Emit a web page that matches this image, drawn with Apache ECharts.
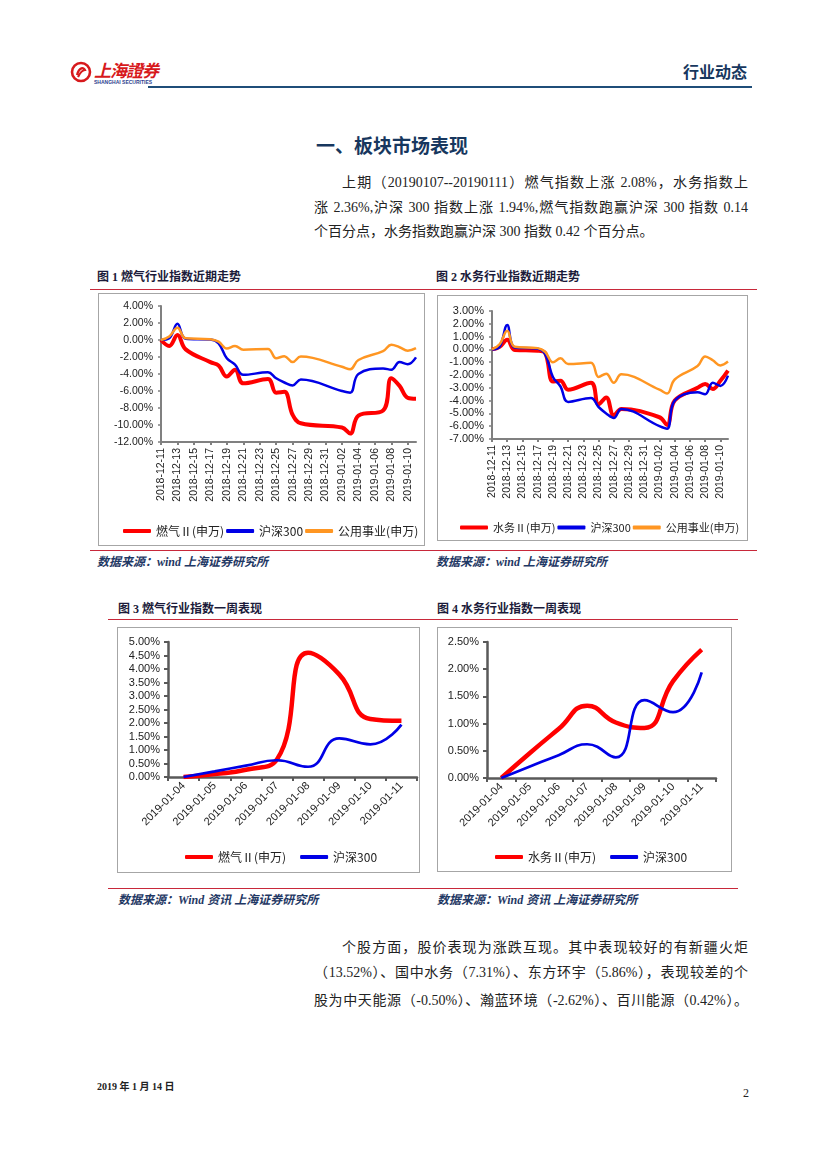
<!DOCTYPE html>
<html><head><meta charset="utf-8">
<script src="https://cdn.jsdelivr.net/npm/echarts@6/dist/echarts.min.js"></script>
<style>
body{margin:0;background:#fff;}
#page{position:relative;width:827px;height:1169px;overflow:hidden;background:#fff;font-family:"Liberation Serif","Noto Sans CJK SC",serif;color:#222;}
.abs{position:absolute;white-space:nowrap;}
.hr{position:absolute;height:1px;background:#C8283A;}
.box{position:absolute;border:1px solid #A6A6A6;box-sizing:border-box;}
.chart{position:absolute;}
.figt{position:absolute;white-space:nowrap;font-size:12px;font-weight:bold;color:#1B1B3A;line-height:16px;}
.src{position:absolute;white-space:nowrap;font-size:12px;font-weight:bold;font-style:italic;color:#1F3864;line-height:16px;}
.pl{position:absolute;font-size:14px;line-height:20px;height:20px;text-align:justify;text-align-last:justify;}
</style>
</head><body>
<div id="page">
  <!-- header -->
  <svg class="abs" style="left:70px;top:61px" width="22" height="22" viewBox="0 0 22 22">
    <circle cx="11" cy="11" r="9" fill="none" stroke="#D7191C" stroke-width="2.6"/>
    <path d="M7 14 C9 6, 14 6, 15 9 C12 9, 10 12, 8 16" fill="none" stroke="#D7191C" stroke-width="2.2"/>
  </svg>
  <div class="abs" style="left:94px;top:60px;font-size:17px;font-weight:bold;font-style:italic;color:#D7191C;font-family:'Noto Sans CJK TC';line-height:20px;letter-spacing:-1px">上海證券</div>
  <div class="abs" style="left:94px;top:79px;font-size:5px;font-weight:bold;color:#2E3F8F;font-family:'Liberation Sans';line-height:6px">SHANGHAI SECURITIES</div>
  <div class="abs" style="left:683px;top:61px;font-size:16px;font-weight:bold;color:#17375E;font-family:'Noto Sans CJK SC';line-height:20px">行业动态</div>
  <div class="abs" style="left:148px;top:86px;width:604px;height:2px;background:#1F4E79"></div>

  <div class="abs" style="left:316px;top:133px;font-size:19px;font-weight:bold;color:#17375E;font-family:'Noto Sans CJK SC';line-height:24px">一、板块市场表现</div>

  <div class="pl" style="left:342px;top:173px;width:406px">上期（20190107--20190111）燃气指数上涨 2.08%，水务指数上</div>
  <div class="pl" style="left:314px;top:198px;width:434px">涨 2.36%,沪深 300 指数上涨 1.94%,燃气指数跑赢沪深 300 指数 0.14</div>
  <div class="abs" style="left:314px;top:222px;font-size:14px;line-height:20px">个百分点，水务指数跑赢沪深 300 指数 0.42 个百分点。</div>

  <div class="figt" style="left:97px;top:269px">图 1 燃气行业指数近期走势</div>
  <div class="figt" style="left:436px;top:269px">图 2 水务行业指数近期走势</div>
  <div class="hr" style="left:90px;top:289px;width:667px"></div>

  <div class="box" style="left:98px;top:293px;width:327px;height:253px"></div>
  <div class="chart" id="c1" style="left:98px;top:293px;width:327px;height:253px"></div>
  <div class="box" style="left:437px;top:295px;width:311px;height:246px"></div>
  <div class="chart" id="c2" style="left:437px;top:295px;width:311px;height:246px"></div>

  <div class="hr" style="left:90px;top:550px;width:667px"></div>
  <div class="src" style="left:97px;top:554px">数据来源：wind 上海证券研究所</div>
  <div class="src" style="left:436px;top:554px">数据来源：wind 上海证券研究所</div>

  <div class="figt" style="left:118px;top:601px">图 3 燃气行业指数一周表现</div>
  <div class="figt" style="left:437px;top:601px">图 4 水务行业指数一周表现</div>
  <div class="hr" style="left:108px;top:619px;width:630px"></div>

  <div class="box" style="left:117px;top:627px;width:303px;height:246px"></div>
  <div class="chart" id="c3" style="left:117px;top:627px;width:303px;height:246px"></div>
  <div class="box" style="left:437px;top:627px;width:295px;height:245px"></div>
  <div class="chart" id="c4" style="left:437px;top:627px;width:295px;height:245px"></div>

  <div class="hr" style="left:108px;top:888px;width:630px"></div>
  <div class="src" style="left:118px;top:892px">数据来源：Wind 资讯 上海证券研究所</div>
  <div class="src" style="left:437px;top:892px">数据来源：Wind 资讯 上海证券研究所</div>

  <div class="pl" style="left:342px;top:938px;width:406px">个股方面，股价表现为涨跌互现。其中表现较好的有新疆火炬</div>
  <div class="pl" style="left:314px;top:963px;width:434px">（13.52%）、国中水务（7.31%）、东方环宇（5.86%），表现较差的个</div>
  <div class="pl" style="left:314px;top:991px;width:434px">股为中天能源（-0.50%）、瀚蓝环境（-2.62%）、百川能源（0.42%）。</div>

  <div class="abs" style="left:97px;top:1080px;font-size:10px;font-weight:bold;line-height:14px">2019 年 1 月 14 日</div>
  <div class="abs" style="left:743px;top:1085px;font-size:12px;line-height:16px">2</div>
</div>
<script>
// ---------- data ----------
const trendDates = ['2018-12-11','2018-12-12','2018-12-13','2018-12-14','2018-12-17','2018-12-18','2018-12-19','2018-12-20','2018-12-21','2018-12-24','2018-12-25','2018-12-26','2018-12-27','2018-12-28','2019-01-02','2019-01-03','2019-01-04','2019-01-07','2019-01-08','2019-01-09','2019-01-10','2019-01-11'];
const gasTrend   = [0, -0.7, 0.6, -1.1, -2.6, -3.0, -4.3, -3.5, -5.1, -4.6, -6.2, -6.1, -8.8, -9.8, -10.3, -11.0, -8.9, -8.3, -4.5, -5.4, -6.8, -6.9];
const waterTrend = [0, 0.2, 0.75, -0.05, -0.1, -0.3, -2.5, -2.45, -3.15, -2.6, -4.3, -3.75, -5.15, -4.65, -5.3, -5.9, -4.0, -3.0, -2.7, -3.1, -2.45, -1.65];
const hs300Trend = [0, 0.2, 1.9, 0.15, 0.05, -0.4, -2.15, -2.9, -4.1, -3.8, -4.5, -5.0, -5.35, -4.65, -6.0, -6.2, -4.0, -3.35, -3.5, -2.6, -2.85, -2.05];
const utilTrend  = [0, 0.4, 1.45, 0.2, 0.1, -0.2, -1.0, -0.7, -1.15, -1.05, -2.15, -1.9, -2.6, -1.95, -3.15, -3.45, -2.35, -1.3, -0.55, -0.85, -1.25, -0.95];

const weekDates = ['2019-01-04','2019-01-05','2019-01-06','2019-01-07','2019-01-08','2019-01-09','2019-01-10','2019-01-11'];
const gasWeek   = [0, 0.11, 0.27, 0.65, 4.6, 3.8, 2.15, 2.08];
const waterWeek = [0, 0.46, 0.9, 1.33, 1.02, 0.92, 1.78, 2.36];
const hs300Week = [0, 0.21, 0.42, 0.62, 0.38, 1.43, 1.21, 1.94];

const names = {gas:'燃气Ⅱ(申万)', water:'水务Ⅱ(申万)', hs:'沪深300', util:'公用事业(申万)'};
const colors = {red:'#FF0000', blue:'#0000E6', orange:'#FF9622'};

// ---------- helpers ----------
function calendar(from, to){
  const out=[]; let t=Date.parse(from+'T00:00:00Z'); const end=Date.parse(to+'T00:00:00Z');
  while(t<=end){ out.push(new Date(t).toISOString().slice(0,10)); t+=86400000; }
  return out;
}
const calDays = calendar(trendDates[0], trendDates[trendDates.length-1]);
function onCalendar(vals){
  const m={}; trendDates.forEach((d,i)=>m[d]=vals[i]);
  return calDays.map(d=> (d in m) ? m[d] : null);
}
const FONT = 'Liberation Sans, Arial, Noto Sans CJK SC, sans-serif';
const pct = v => v.toFixed(2)+'%';

function trendOption(cfg){
  return {
    animation:false,
    textStyle:{fontFamily:FONT},
    grid:{left:cfg.grid[0],top:cfg.grid[1],right:cfg.grid[2],bottom:cfg.grid[3]},
    legend:{left:cfg.legendLeft,top:cfg.legendTop,width:400,itemWidth:28,itemHeight:4,itemGap:cfg.legendGap,icon:'roundRect',
      textStyle:{fontSize:cfg.legendFont,color:'#222',fontFamily:'Noto Sans CJK SC, sans-serif'},
      data:cfg.series.map(s=>s.name)},
    xAxis:{type:'category',data:calDays,boundaryGap:false,
      axisLine:{onZero:false,lineStyle:{color:'#808080',width:2}},
      axisTick:{show:true,interval:1,length:3,lineStyle:{color:'#808080',width:2}},
      axisLabel:{interval:1,rotate:90,fontSize:10.5,color:'#222',margin:6}},
    yAxis:{type:'value',min:cfg.min,max:cfg.max,interval:cfg.interval,
      axisLine:{show:true,lineStyle:{color:'#808080',width:2}},
      axisTick:{show:true,length:3,lineStyle:{color:'#808080',width:1.5}},
      splitLine:{show:false},
      axisLabel:{fontSize:cfg.yFont,color:'#222',margin:8,formatter:pct}},
    series:cfg.series.map(s=>({name:s.name,type:'line',data:onCalendar(s.data),connectNulls:true,smooth:0.4,
      showSymbol:false,symbol:'none',lineStyle:{color:s.color,width:s.width},itemStyle:{color:s.color}}))
  };
}
function weekOption(cfg){
  return {
    animation:false,
    textStyle:{fontFamily:FONT},
    grid:{left:cfg.grid[0],top:cfg.grid[1],right:cfg.grid[2],bottom:cfg.grid[3]},
    legend:{left:cfg.legendLeft,top:cfg.legendTop,width:400,itemWidth:28,itemHeight:4,itemGap:14,icon:'roundRect',
      textStyle:{fontSize:12,color:'#222',fontFamily:'Noto Sans CJK SC, sans-serif'},
      data:cfg.series.map(s=>s.name)},
    xAxis:{type:'category',data:weekDates,boundaryGap:true,
      axisLine:{onZero:false,lineStyle:{color:'#595959',width:2.5}},
      axisTick:{show:true,length:4,lineStyle:{color:'#595959',width:2}},
      axisLabel:{interval:0,rotate:45,fontSize:11,color:'#222',margin:7}},
    yAxis:{type:'value',min:cfg.min,max:cfg.max,interval:0.5,
      axisLine:{show:true,lineStyle:{color:'#595959',width:2.5}},
      axisTick:{show:true,length:4,lineStyle:{color:'#595959',width:2}},
      splitLine:{show:false},
      axisLabel:{fontSize:11,color:'#222',margin:8,formatter:pct}},
    series:cfg.series.map(s=>({name:s.name,type:'line',data:s.data,smooth:0.5,
      showSymbol:false,symbol:'none',lineStyle:{color:s.color,width:s.width},itemStyle:{color:s.color}}))
  };
}

echarts.init(document.getElementById('c1')).setOption(trendOption({
  grid:[63,13,9,104], min:-12, max:4, interval:2, yFont:10.5,
  legendLeft:20, legendTop:227, legendGap:2, legendFont:12,
  series:[
    {name:names.gas, data:gasTrend, color:colors.red, width:4},
    {name:names.hs, data:hs300Trend, color:colors.blue, width:2.5},
    {name:names.util, data:utilTrend, color:colors.orange, width:2.5}
  ]}));
echarts.init(document.getElementById('c2')).setOption(trendOption({
  grid:[55,16,20,102], min:-7, max:3, interval:1, yFont:11,
  legendLeft:18, legendTop:222, legendGap:2, legendFont:11,
  series:[
    {name:names.water, data:waterTrend, color:colors.red, width:4},
    {name:names.hs, data:hs300Trend, color:colors.blue, width:2.5},
    {name:names.util, data:utilTrend, color:colors.orange, width:2.5}
  ]}));
echarts.init(document.getElementById('c3')).setOption(weekOption({
  grid:[51,15,3,96], min:0, max:5,
  legendLeft:63, legendTop:219,
  series:[
    {name:names.gas, data:gasWeek, color:colors.red, width:4.5},
    {name:names.hs, data:hs300Week, color:colors.blue, width:2.7}
  ]}));
echarts.init(document.getElementById('c4')).setOption(weekOption({
  grid:[50,15,16,94], min:0, max:2.5,
  legendLeft:53, legendTop:219,
  series:[
    {name:names.water, data:waterWeek, color:colors.red, width:4.5},
    {name:names.hs, data:hs300Week, color:colors.blue, width:2.7}
  ]}));
</script>
</body></html>
